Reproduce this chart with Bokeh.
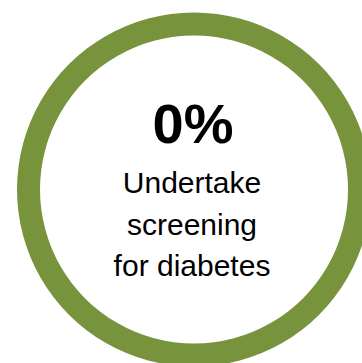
import math
from bokeh.plotting import figure
from bokeh.models import Range1d
from bokeh.core.properties import value
from bokeh.embed import file_html
from bokeh.resources import INLINE

# Data
labels = ["Undertake screening for diabetes", "Do not"]
shares = [0, 100]
colors = ["#4F6228", "#77933C"]
headline = "0%"
caption_lines = ["Undertake", "screening", "for diabetes"]

W, H = 362, 363
p = figure(width=W, height=H, output_backend="svg", toolbar_location=None,
           x_range=Range1d(0, W), y_range=Range1d(H, 0), min_border=0)
p.axis.visible = False
p.xgrid.visible = False
p.ygrid.visible = False
p.outline_line_color = None
p.background_fill_color = "white"
p.border_fill_color = "white"

cx, cy = 193.5, 189.0
r_in, r_out = 154, 177

total = float(sum(shares))
start = -math.pi / 2
for s, c in zip(shares, colors):
    if s <= 0:
        continue
    ang = 2 * math.pi * s / total
    p.annular_wedge(x=[cx], y=[cy], inner_radius=r_in, outer_radius=r_out,
                    start_angle=start, end_angle=start + ang - 1e-6,
                    fill_color=c, line_color=None)
    start += ang

p.text(x=[cx - 1], y=[123], text=[headline], text_font=value("Liberation Sans"),
       text_font_size="56px", text_font_style="bold", text_align="center",
       text_baseline="alphabetic", text_color="black")

bases = [182, 224, 265]
p.text(x=[cx - 2] * 3, y=bases, text=caption_lines, text_font=value("Liberation Sans"),
       text_font_size="30px", text_align="center", text_baseline="alphabetic",
       text_color="black")

open("out.html", "w").write(file_html(p, INLINE))
